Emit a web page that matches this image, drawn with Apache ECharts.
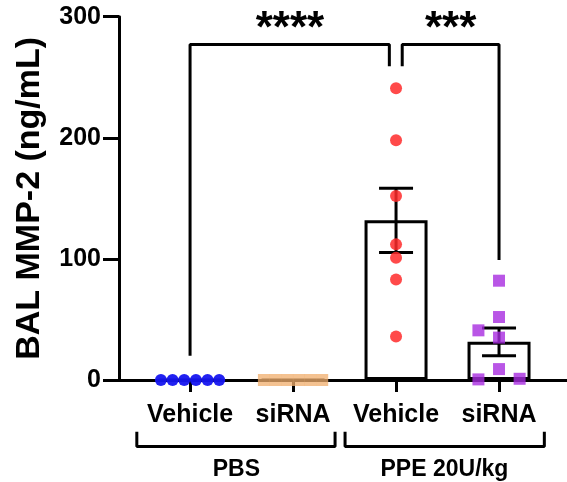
<!DOCTYPE html>
<html>
<head>
<meta charset="utf-8">
<script src="https://cdn.jsdelivr.net/npm/echarts@6/dist/echarts.min.js"></script>
<style>
html, body { margin: 0; padding: 0; background: #fff; }
#chart { width: 567px; height: 482px; }
</style>
</head>
<body>
<div id="chart"></div>
<script>
// categories and tick labels
var groupNames = ['Vehicle', 'siRNA', 'Vehicle', 'siRNA'];
var treatNames = ['PBS', 'PPE 20U/kg'];
var treatCenters = [0.45, 2.47];
var yTicks = [0, 100, 200, 300];

// individual animals (value) and their horizontal jitter (in category units)
var pbsVehicle = [0, 0, 0, 0, 0, 0];
var pbsVehicleX = [-0.283, -0.17, -0.057, 0.057, 0.17, 0.283];
var pbsSirna = [0, 0, 0, 0, 0, 0];
var pbsSirnaX = [-0.283, -0.17, -0.057, 0.057, 0.17, 0.283];
var ppeVehicle = [241, 198, 152, 112, 101, 83, 36];
var ppeVehicleX = [0, 0, 0, 0, 0, 0, 0];
var ppeSirna = [82, 52, 41, 35, 9, 0.5, 1];
var ppeSirnaX = [0, 0, -0.2, 0, 0, -0.2, 0.2];

// significance brackets [x, y] in data units
var sigLeft = [[0, 20], [0, 277], [1.935, 277], [1.935, 259]];
var sigRight = [[2.06, 259], [2.06, 277], [3, 277], [3, 99]];
var sigLabels = ['****', '***'];
var sigCenters = [0.97, 2.53];

var groups = [pbsVehicle, pbsSirna, ppeVehicle, ppeSirna];

function mean(a) {
    var s = 0;
    for (var i = 0; i < a.length; i++) s += a[i];
    return s / a.length;
}
function sem(a) {
    var m = mean(a), s = 0;
    for (var i = 0; i < a.length; i++) s += (a[i] - m) * (a[i] - m);
    return Math.sqrt(s / (a.length - 1)) / Math.sqrt(a.length);
}
function pts(vals, offs, gi) {
    var out = [];
    for (var i = 0; i < vals.length; i++) out.push([gi + offs[i], vals[i]]);
    return out;
}

var barData = [];
var errData = [];
for (var g = 0; g < groups.length; g++) {
    var m = mean(groups[g]);
    var e = sem(groups[g]);
    barData.push([g, m]);
    if (e > 0) errData.push([g, m, m - e, m + e]);
}

var font = '"Liberation Sans", Arial, sans-serif';

function renderErr(params, api) {
    var x = api.value(0);
    var lo = api.coord([x, api.value(2)]);
    var hi = api.coord([x, api.value(3)]);
    var half = 17;
    var st = { stroke: '#000', lineWidth: 3 };
    return {
        type: 'group',
        children: [
            { type: 'line', shape: { x1: lo[0], y1: lo[1], x2: hi[0], y2: hi[1] }, style: st },
            { type: 'line', shape: { x1: hi[0] - half, y1: hi[1], x2: hi[0] + half, y2: hi[1] }, style: st },
            { type: 'line', shape: { x1: lo[0] - half, y1: lo[1], x2: lo[0] + half, y2: lo[1] }, style: st }
        ]
    };
}

var textPts = [];
for (var s = 0; s < sigLabels.length; s++) {
    textPts.push({ value: [sigCenters[s], 300], name: sigLabels[s] });
}
var groupPts = [];
for (var t = 0; t < treatNames.length; t++) {
    groupPts.push({ value: [treatCenters[t], -74], name: treatNames[t] });
}

var myChart = echarts.init(document.getElementById('chart'));
var option = {
    animation: false,
    grid: { left: 119, right: 0, top: 16.7, bottom: 102 },
    xAxis: {
        type: 'value',
        min: -0.69,
        max: 3.66,
        splitLine: { show: false },
        axisLine: { onZero: false, lineStyle: { color: '#000', width: 3 } },
        axisTick: { customValues: [0, 1, 2, 3], length: 12, lineStyle: { color: '#000', width: 3 } },
        axisLabel: {
            customValues: [0, 1, 2, 3],
            formatter: function (v) { return groupNames[Math.round(v)]; },
            color: '#000',
            fontFamily: font,
            fontWeight: 'bold',
            fontSize: 25,
            margin: 23
        }
    },
    yAxis: {
        type: 'value',
        min: 0,
        max: 300,
        interval: 100,
        name: 'BAL MMP-2 (ng/mL)',
        nameLocation: 'middle',
        nameGap: 72,
        nameTextStyle: { color: '#000', fontFamily: font, fontWeight: 'bold', fontSize: 34 },
        splitLine: { show: false },
        axisLine: { show: true, onZero: false, lineStyle: { color: '#000', width: 3 } },
        axisTick: { show: true, length: 16, lineStyle: { color: '#000', width: 3 } },
        axisLabel: {
            formatter: function (v) { return yTicks.indexOf(v) >= 0 ? String(v) : ''; },
            color: '#000',
            fontFamily: font,
            fontWeight: 'bold',
            fontSize: 25,
            margin: 18
        }
    },
    series: [
        {
            type: 'bar',
            data: barData,
            barWidth: 63,
            itemStyle: { color: '#fff', borderColor: '#000', borderWidth: 3 },
            z: 2
        },
        {
            type: 'custom',
            renderItem: renderErr,
            data: errData,
            clip: false,
            z: 3
        },
        {
            type: 'scatter', data: pts(pbsVehicle, pbsVehicleX, 0), symbol: 'circle', symbolSize: 12,
            itemStyle: { color: '#1515f0', opacity: 0.95 }, clip: false, z: 4
        },
        {
            type: 'scatter', data: pts(pbsSirna, pbsSirnaX, 1), symbol: 'rect', symbolSize: 12,
            itemStyle: { color: '#f0ad6c', opacity: 0.75 }, clip: false, z: 4
        },
        {
            type: 'scatter', data: pts(ppeVehicle, ppeVehicleX, 2), symbol: 'circle', symbolSize: 12,
            itemStyle: { color: '#ff2a2a', opacity: 0.85 }, clip: false, z: 4
        },
        {
            type: 'scatter', data: pts(ppeSirna, ppeSirnaX, 3), symbol: 'rect', symbolSize: 12,
            itemStyle: { color: '#a82ce0', opacity: 0.8 }, clip: false, z: 4
        },
        {
            type: 'line', data: sigLeft, symbol: 'none', clip: false,
            lineStyle: { color: '#000', width: 3 }, z: 5
        },
        {
            type: 'line', data: sigRight, symbol: 'none', clip: false,
            lineStyle: { color: '#000', width: 3 }, z: 5
        },
        {
            type: 'scatter', data: textPts, symbolSize: 0, clip: false, silent: true,
            itemStyle: { opacity: 1 },
            label: {
                show: true, position: 'inside', formatter: '{b}', opacity: 1,
                color: '#000', fontFamily: font, fontWeight: 'bold', fontSize: 44,
                offset: [0, 13]
            }
        },
        {
            type: 'line', data: [[-0.517, -42.7], [-0.517, -55], [1.408, -55], [1.408, -42.7]],
            symbol: 'none', clip: false, lineStyle: { color: '#000', width: 3 }
        },
        {
            type: 'line', data: [[1.505, -42.7], [1.505, -55], [3.44, -55], [3.44, -42.7]],
            symbol: 'none', clip: false, lineStyle: { color: '#000', width: 3 }
        },
        {
            type: 'scatter', data: groupPts, symbolSize: 0, clip: false, silent: true,
            itemStyle: { opacity: 1 },
            label: {
                show: true, position: 'inside', formatter: '{b}', opacity: 1,
                color: '#000', fontFamily: font, fontWeight: 'bold', fontSize: 23
            }
        }
    ]
};
myChart.setOption(option);
</script>
</body>
</html>
